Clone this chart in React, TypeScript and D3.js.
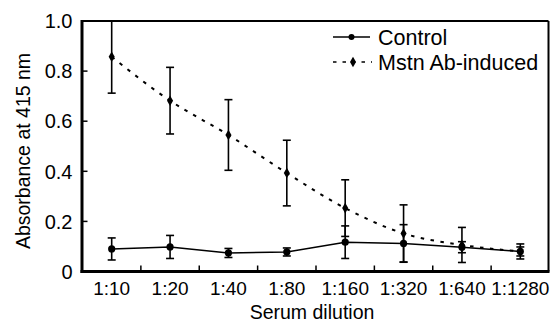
import React from "react";
import * as d3 from "d3";

const categories = ["1:10", "1:20", "1:40", "1:80", "1:160", "1:320", "1:640", "1:1280"];
const controlValues = [0.09, 0.098, 0.074, 0.078, 0.117, 0.112, 0.097, 0.08];
const controlErr = [0.044, 0.046, 0.018, 0.016, 0.065, 0.075, 0.022, 0.018];
const mstnValues = [0.857, 0.682, 0.545, 0.393, 0.253, 0.152, 0.106, 0.08];
const mstnErr = [0.145, 0.133, 0.141, 0.131, 0.113, 0.114, 0.07, 0.03];
const yTicks = [0, 0.2, 0.4, 0.6, 0.8, 1.0];
const seriesNames = ["Control", "Mstn Ab-induced"];

const W = 553;
const H = 323;
const left = 82;
const right = 548.5;
const top = 21;
const bottom = 271.5;
const FONT = "'Liberation Sans', Arial, Helvetica, sans-serif";

export default function App() {
  const x = d3.scaleBand<string>().domain(categories).range([82.5, 549.5]).paddingInner(0).paddingOuter(0);
  const y = d3.scaleLinear().domain([0, 1]).range([bottom, top]);
  const cx = (c: string) => (x(c) as number) + x.bandwidth() / 2;

  const controlPts = categories.map((c, i) => [cx(c), y(controlValues[i])] as [number, number]);
  const mstnPts = categories.map((c, i) => [cx(c), y(mstnValues[i])] as [number, number]);
  const lineStraight = d3.line();
  const lineSmooth = d3.line().curve(d3.curveMonotoneX);

  const diamond = d3.symbol().type(d3.symbolDiamond).size(32)();
  const capW = 4;

  const errBars = (vals: number[], errs: number[], key: string) =>
    categories.map((c, i) => {
      const px = cx(c);
      const hi = y(Math.min(1, vals[i] + errs[i]));
      const lo = y(vals[i] - errs[i]);
      return (
        <g key={key + i} stroke="#000" strokeWidth={1.6}>
          <line x1={px} x2={px} y1={hi} y2={lo} />
          <line x1={px - capW} x2={px + capW} y1={hi} y2={hi} />
          <line x1={px - capW} x2={px + capW} y1={lo} y2={lo} />
        </g>
      );
    });

  const boundaries = d3.range(1, categories.length).map((i) => 82.5 + i * x.step());

  return (
    <svg width={W} height={H} style={{ position: "absolute", left: 0, top: 0, background: "#fff" }} fontFamily={FONT}>
      <rect x={0} y={0} width={W} height={H} fill="#fff" />
      {/* frame */}
      <line x1={left} x2={right} y1={top} y2={top} stroke="#000" strokeWidth={2} />
      <line x1={right} x2={right} y1={top} y2={bottom} stroke="#000" strokeWidth={2} />
      <line x1={left} x2={left} y1={top - 1} y2={bottom + 1.5} stroke="#000" strokeWidth={3} />
      <line x1={left - 1.5} x2={right + 1} y1={bottom} y2={bottom} stroke="#000" strokeWidth={3} />

      {/* y ticks */}
      {yTicks.map((t) => (
        <g key={"yt" + t}>
          {t > 0 && t < 1 && <line x1={left} x2={left + 5.5} y1={y(t)} y2={y(t)} stroke="#000" strokeWidth={1.5} />}
          <text x={72.5} y={y(t)} dy="0.36em" textAnchor="end" fontSize={20}>
            {t === 0 ? "0" : t.toFixed(1)}
          </text>
        </g>
      ))}

      {/* x ticks */}
      {boundaries.map((b, i) => (
        <line key={"xt" + i} x1={b} x2={b} y1={bottom} y2={bottom - 6} stroke="#000" strokeWidth={1.5} />
      ))}
      {categories.map((c) => (
        <text key={"xl" + c} x={cx(c)} y={295} textAnchor="middle" fontSize={19}>
          {c}
        </text>
      ))}

      {/* axis titles */}
      <text x={312} y={319} textAnchor="middle" fontSize={19.5}>
        Serum dilution
      </text>
      <text transform={`translate(30,151) rotate(-90)`} textAnchor="middle" fontSize={19.5}>
        Absorbance at 415 nm
      </text>

      {/* Mstn series */}
      <path d={lineSmooth(mstnPts) || ""} fill="none" stroke="#000" strokeWidth={2} strokeDasharray="3.5,6.5" />
      {errBars(mstnValues, mstnErr, "me")}
      {mstnPts.map((p, i) => (
        <path key={"md" + i} d={diamond || ""} transform={`translate(${p[0]},${p[1]})`} fill="#000" />
      ))}

      {/* Control series */}
      <path d={lineStraight(controlPts) || ""} fill="none" stroke="#000" strokeWidth={1.6} />
      {errBars(controlValues, controlErr, "ce")}
      {controlPts.map((p, i) => (
        <circle key={"cc" + i} cx={p[0]} cy={p[1]} r={3.6} fill="#000" />
      ))}

      {/* legend */}
      <g>
        <line x1={333} x2={370} y1={37} y2={37} stroke="#000" strokeWidth={1.6} />
        <circle cx={351.5} cy={37} r={3} fill="#000" />
        <text x={378} y={37} dy="0.36em" fontSize={21.5}>
          {seriesNames[0]}
        </text>
        <line x1={333} x2={372} y1={62} y2={62} stroke="#000" strokeWidth={1.6} strokeDasharray="3.5,6" />
        <path d={diamond || ""} transform="translate(353,62)" fill="#000" />
        <text x={378} y={62} dy="0.36em" fontSize={21.5}>
          {seriesNames[1]}
        </text>
      </g>
    </svg>
  );
}
